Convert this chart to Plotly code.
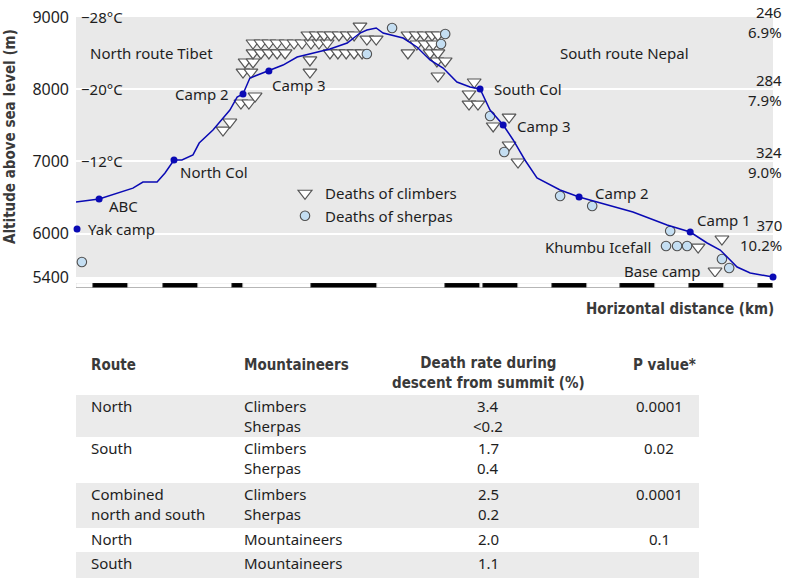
import plotly.graph_objects as go

# ---------------- data ----------------
profile_km = [0.00, 0.67, 1.65, 1.94, 2.35, 2.58, 2.84, 3.07, 3.39, 3.57, 3.97, 4.46, 4.67, 4.84,
              5.04, 5.59, 6.00, 6.41, 6.99, 7.36, 7.86, 8.23, 8.43, 8.70, 8.90, 9.48, 9.88, 10.26,
              10.64, 11.04, 11.42, 11.71, 12.00, 12.38, 12.67, 13.01, 13.36, 14.03, 14.58, 15.19,
              16.14, 17.13, 17.80, 18.29, 18.67, 19.16, 19.54, 20.20]
profile_alt = [6440, 6480, 6630, 6715, 6715, 6840, 7020, 7020, 7090, 7255, 7435, 7712, 7892, 7934,
               8155, 8252, 8335, 8446, 8515, 8557, 8640, 8778, 8820, 8848, 8778, 8709, 8585, 8405,
               8294, 8100, 8031, 8003, 7712, 7505, 7297, 7020, 6771, 6605, 6508, 6425,
               6300, 6120, 6023, 5871, 5774, 5538, 5455, 5400]

camp_names = ["Yak camp", "ABC", "North Col", "Camp 2", "Camp 3", "South Col", "Camp 3", "Camp 2", "Camp 1", "Base camp"]
camp_km = [0.03, 0.67, 2.84, 4.84, 5.59, 11.71, 12.38, 14.58, 17.80, 20.20]
camp_alt = [6065, 6480, 7020, 7934, 8252, 8003, 7505, 6508, 6023, 5400]

feature_names = ["Khumbu Icefall"]
feature_km = [16.72]
feature_alt = [5815]

climber_km = [4.26, 4.46, 4.78, 5.01, 5.19, 4.84, 5.07, 4.90, 5.13,
              5.13, 5.36, 5.59, 5.83, 6.06,
              5.13, 5.36, 5.59, 5.83, 6.09, 6.32, 6.55, 6.81, 7.04, 7.28,
              6.72, 6.96, 7.19, 7.39, 7.62, 7.86, 8.06,
              8.23, 8.43, 8.70,
              7.36, 7.59, 7.83, 8.06, 8.29, 6.78, 6.78,
              9.62, 9.86, 10.09, 10.32, 10.49,
              9.88, 10.12, 10.35,
              9.62, 10.26, 10.49,
              10.46, 10.70, 10.49,
              11.54, 11.39, 11.39, 11.65,
              12.09, 12.55, 12.55, 12.81,
              18.03, 18.72, 18.52]
climber_alt = [7435, 7546, 7809, 7809, 7906, 8238, 8238, 8377, 8377,
               8502, 8502, 8502, 8502, 8502,
               8640, 8640, 8640, 8640, 8640, 8640, 8640, 8640, 8640, 8640,
               8751, 8751, 8751, 8751, 8751, 8751, 8751,
               8875, 8695, 8695,
               8502, 8502, 8502, 8502, 8502, 8405, 8238,
               8751, 8751, 8751, 8751, 8751,
               8626, 8626, 8626,
               8502, 8502, 8502,
               8391, 8391, 8183,
               8100, 7934, 7795, 7795,
               7491, 7615, 7228, 6992,
               5815, 5926, 5483]

sherpa_km = [0.17, 9.16, 8.43, 10.70, 10.58, 12.00, 12.41, 14.03, 14.96, 17.22, 17.10, 17.42, 17.71, 18.72, 18.93]
sherpa_alt = [5608, 8848, 8488, 8765, 8626, 7629, 7131, 6522, 6383, 6037, 5829, 5829, 5829, 5649, 5525]

temp_labels = ["\u221228\u00b0C", "\u221220\u00b0C", "\u221212\u00b0C"]
temp_alt = [9000, 8000, 7000]

band_alt = [9000, 8000, 7000, 6000]
band_deaths = ["246", "284", "324", "370"]
band_pct = ["6.9%", "7.9%", "9.0%", "10.2%"]

region_names = ["North route Tibet", "South route Nepal"]
region_km = [2.2, 15.9]
region_alt = [8502, 8502]

scale_bounds = [0, 0.49, 1.51, 2.52, 3.54, 4.52, 4.84, 6.81, 8.72, 10.70, 11.71, 11.80,
                12.81, 13.80, 14.81, 15.77, 16.78, 17.77, 18.78, 19.77, 20.20]

y_ticks = [5400, 6000, 7000, 8000, 9000]

table_header = ["Route", "Mountaineers", "Death rate during<br>descent from summit (%)", "P value*"]
table_route = [["North"], ["South"], ["Combined", "north and south"], ["North"], ["South"]]
table_group = [["Climbers", "Sherpas"], ["Climbers", "Sherpas"], ["Climbers", "Sherpas"], ["Mountaineers"], ["Mountaineers"]]
table_rate = [["3.4", "<0.2"], ["1.7", "0.4"], ["2.5", "0.2"], ["2.0"], ["1.1"]]
table_p = ["0.0001", "0.02", "0.0001", "0.1", ""]

# ---------------- layout helpers ----------------
W, H = 787, 580
ML, MT = 76, 17
MR = W - 773
MB = H - 290
PW = W - ML - MR
PH = H - MT - MB


def px(x):  # window pixel -> paper x
    return (x - ML) / PW


def py(y):  # window pixel -> paper y
    return (H - MB - y) / PH


BODY = "Noto Sans, Open Sans, sans-serif"
BOLD = "DejaVu Sans Condensed, Liberation Sans Narrow, DejaVu Sans, sans-serif"
TXT = "#1e1e1e"
HDR = "#3a3a3a"
BLUE = "#0a0ab4"

fig = go.Figure()

# scale bar
widths = [scale_bounds[i + 1] - scale_bounds[i] for i in range(len(scale_bounds) - 1)]
colors = ["white" if i % 2 == 0 else "black" for i in range(len(widths))]
fig.add_trace(go.Bar(x=widths, base=scale_bounds[:-1], y=[0] * len(widths), orientation="h",
                     width=[1] * len(widths), marker=dict(color=colors, line=dict(color="#888", width=0.7)),
                     xaxis="x", yaxis="y2", showlegend=False, hoverinfo="skip"))

fig.add_trace(go.Scatter(x=climber_km, y=climber_alt, mode="markers", name="Deaths of climbers",
                         marker=dict(symbol="triangle-down", size=12, color="white",
                                     line=dict(color="#555555", width=1.2))))
fig.add_trace(go.Scatter(x=sherpa_km, y=sherpa_alt, mode="markers", name="Deaths of sherpas",
                         marker=dict(symbol="circle", size=9.5, color="#c4def2",
                                     line=dict(color="#505050", width=1.1))))
fig.add_trace(go.Scatter(x=profile_km, y=profile_alt, mode="lines", line=dict(color=BLUE, width=1.5),
                         showlegend=False, hoverinfo="skip"))
fig.add_trace(go.Scatter(x=camp_km, y=camp_alt, mode="markers", marker=dict(color=BLUE, size=7),
                         showlegend=False, cliponaxis=False))

ann = []
# camp labels: (xanchor, xshift, yshift)
camp_style = [("left", 9, 0), ("left", 8, -7), ("left", 4, -12), ("right", -12, 0), ("left", 1, -14),
              ("left", 12, 0), ("left", 12, -1), ("left", 14, 4), ("left", 5, 12), ("right", -70, 6)]
for n, xk, ya, (xa, xs, ys) in zip(camp_names, camp_km, camp_alt, camp_style):
    ann.append(dict(x=xk, y=ya, xref="x", yref="y", text=n, showarrow=False, xanchor=xa, yanchor="middle",
                    xshift=xs, yshift=ys, font=dict(family=BODY, size=15, color=TXT)))
for n, xk, ya in zip(feature_names, feature_km, feature_alt):
    ann.append(dict(x=xk, y=ya, xref="x", yref="y", text=n, showarrow=False, xanchor="right", yanchor="middle",
                    font=dict(family=BODY, size=15, color=TXT)))
for n, xk, ya in zip(region_names, region_km, region_alt):
    ann.append(dict(x=xk, y=ya, xref="x", yref="y", text=n, showarrow=False, xanchor="center", yanchor="middle",
                    font=dict(family=BODY, size=15, color=TXT)))
for t, ya in zip(temp_labels, temp_alt):
    ann.append(dict(x=0, y=ya, xref="paper", yref="y", text=t, showarrow=False, xanchor="left", yanchor="middle",
                    xshift=3, font=dict(family=BODY, size=15, color=TXT)))
# the top block is nudged down a few pixels so it stays inside the page
band_yshift = [-5, -1, -1, -1]
for d, p, ya, ys in zip(band_deaths, band_pct, band_alt, band_yshift):
    ann.append(dict(x=1, y=ya, xref="paper", yref="y", text=d + "<br>" + p, showarrow=False,
                    xanchor="right", yanchor="middle", align="right", borderpad=0,
                    xshift=10, yshift=ys, font=dict(family=BODY, size=15, color=TXT)))

# axis titles
ann.append(dict(x=px(10), y=py(137), xref="paper", yref="paper", text="<b>Altitude above sea level (m)</b>",
                textangle=-90, showarrow=False, xanchor="center", yanchor="middle",
                font=dict(family=BOLD, size=15, color=HDR)))
ann.append(dict(x=px(776), y=py(309), xref="paper", yref="paper", text="<b>Horizontal distance (km)</b>",
                showarrow=False, xanchor="right", yanchor="middle", font=dict(family=BOLD, size=15, color=HDR)))

# table
col_left = [89, 242]
col_center = [488, 659]
ann.append(dict(x=px(col_left[0]), y=py(365), xref="paper", yref="paper", text="<b>" + table_header[0] + "</b>",
                showarrow=False, xanchor="left", yanchor="middle", font=dict(family=BOLD, size=15, color=HDR)))
ann.append(dict(x=px(col_left[1]), y=py(365), xref="paper", yref="paper", text="<b>" + table_header[1] + "</b>",
                showarrow=False, xanchor="left", yanchor="middle", font=dict(family=BOLD, size=15, color=HDR)))
ann.append(dict(x=px(col_center[0]), y=py(373), xref="paper", yref="paper",
                text="<b>" + table_header[2].replace("<br>", "</b><br><b>") + "</b>",
                showarrow=False, xanchor="center", yanchor="middle", font=dict(family=BOLD, size=15, color=HDR)))
ann.append(dict(x=px(col_center[1] + 5), y=py(365), xref="paper", yref="paper", text="<b>" + table_header[3] + "</b>",
                showarrow=False, xanchor="center", yanchor="middle", font=dict(family=BOLD, size=15, color=HDR)))

row_heights = [42, 46, 45, 24, 26]
top = 395
shapes = []
for i in range(len(table_route)):
    if i % 2 == 0:
        shapes.append(dict(type="rect", xref="paper", yref="paper", x0=px(76), x1=px(699),
                           y0=py(top + row_heights[i]), y1=py(top), fillcolor="#ebebeb", line_width=0,
                           layer="below"))
    y0 = top + 11
    cells = [(table_route[i], col_left[0], "left"), (table_group[i], col_left[1], "left"),
             (table_rate[i], col_center[0], "center"), ([table_p[i]], col_center[1], "center")]
    for lines, xx, xa in cells:
        for j, t in enumerate(lines):
            if not t:
                continue
            ann.append(dict(x=px(xx), y=py(y0 + 20 * j), xref="paper", yref="paper", text=t, showarrow=False,
                            xanchor=xa, yanchor="middle", font=dict(family=BODY, size=15, color=TXT)))
    top += row_heights[i]

fig.update_layout(
    width=W, height=H, margin=dict(l=ML, r=MR, t=MT, b=MB, autoexpand=False),
    paper_bgcolor="white", plot_bgcolor="#e9e9e9",
    annotations=ann, shapes=shapes,
    xaxis=dict(range=[0, 20.2], visible=False, anchor="y2", automargin=False),
    yaxis=dict(domain=[py(277), 1], range=[5400, 9000], tickvals=y_ticks, ticks="", showline=False,
               zeroline=False, gridcolor="white", gridwidth=2, ticklabelstandoff=6,
               ticklabeloverflow="allow", automargin=False,
               tickfont=dict(family=BODY, size=16, color=TXT)),
    yaxis2=dict(domain=[py(288), py(283)], range=[-0.5, 0.5], visible=False, automargin=False),
    legend=dict(x=px(285), y=py(177), xanchor="left", yanchor="top", bgcolor="rgba(0,0,0,0)",
                font=dict(family=BODY, size=15, color=TXT), itemwidth=30, tracegroupgap=0),
    bargap=0,
)

# the page body normally has an 8 px margin; remove it so the figure sits at the window's corner
fig.write_html("out.html", config={"displayModeBar": False},
               post_script="document.body.style.margin='0px';")
